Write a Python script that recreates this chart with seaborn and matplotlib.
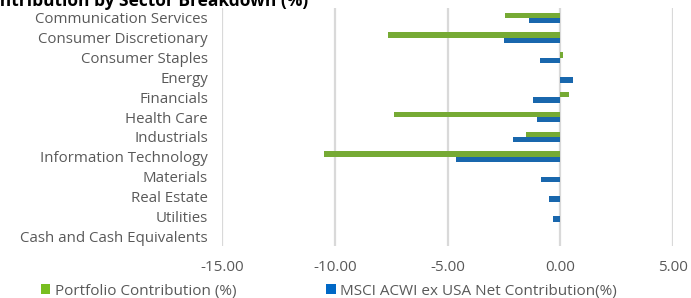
import pandas as pd
import matplotlib.pyplot as plt
import seaborn as sns
from matplotlib.patches import Patch

sectors = [
    "Communication Services",
    "Consumer Discretionary",
    "Consumer Staples",
    "Energy",
    "Financials",
    "Health Care",
    "Industrials",
    "Information Technology",
    "Materials",
    "Real Estate",
    "Utilities",
    "Cash and Cash Equivalents",
]
portfolio = [-2.43, -7.62, 0.13, 0.0, 0.41, -7.37, -1.50, -10.48, 0.0, 0.0, 0.0, 0.0]
benchmark = [-1.40, -2.51, -0.92, 0.56, -1.22, -1.05, -2.09, -4.62, -0.85, -0.49, -0.33, 0.0]
series = ["Portfolio Contribution (%)", "MSCI ACWI ex USA Net Contribution(%)"]
colors = ["#78BE20", "#0068C6"]
xticks = [-15, -10, -5, 0, 5]

df = pd.DataFrame({
    "sector": sectors * 2,
    "value": portfolio + benchmark,
    "series": [series[0]] * len(sectors) + [series[1]] * len(sectors),
})

sns.set_style("white")
plt.rcParams["font.family"] = ["Open Sans", "DejaVu Sans"]

fig = plt.figure(figsize=(6.91, 2.98), dpi=100)
ax = fig.add_axes([222 / 691, 1 - 246 / 298, (673 - 222) / 691, 238 / 298])

sns.barplot(data=df, y="sector", x="value", hue="series", order=sectors,
            hue_order=series, palette=colors, orient="h", width=0.54,
            ax=ax, legend=False, zorder=3, linewidth=0)

ax.set_xlim(-15, 5)
ax.set_xticks(xticks)
ax.set_xticklabels([f"{t:.2f}" for t in xticks])
ax.xaxis.grid(True, color="#D9D9D9", linewidth=1.6, zorder=0)
ax.yaxis.grid(False)
ax.set_axisbelow(True)
for s in ax.spines.values():
    s.set_visible(False)
ax.set_xlabel("")
ax.set_ylabel("")
ax.tick_params(axis="y", length=0, pad=10, labelsize=10.8, labelcolor="#595959")
ax.tick_params(axis="x", length=0, pad=10, labelsize=11, labelcolor="#595959")

fig.text(308 / 691, 1 - 1 / 298, "Contribution by Sector Breakdown (%)", ha="right", va="center",
         fontsize=12.5, fontweight="bold", color="#000000")

handles = [Patch(facecolor=c, edgecolor="none") for c in colors]
fig.legend(handles, series, loc="center left", bbox_to_anchor=(41 / 691, 1 - 291 / 298),
           ncol=2, frameon=False, fontsize=11, labelcolor="#595959",
           handlelength=0.6, handleheight=0.6, handletextpad=0.3, columnspacing=5.9,
           borderaxespad=0, borderpad=0)

fig.savefig("out.png", dpi=100)
